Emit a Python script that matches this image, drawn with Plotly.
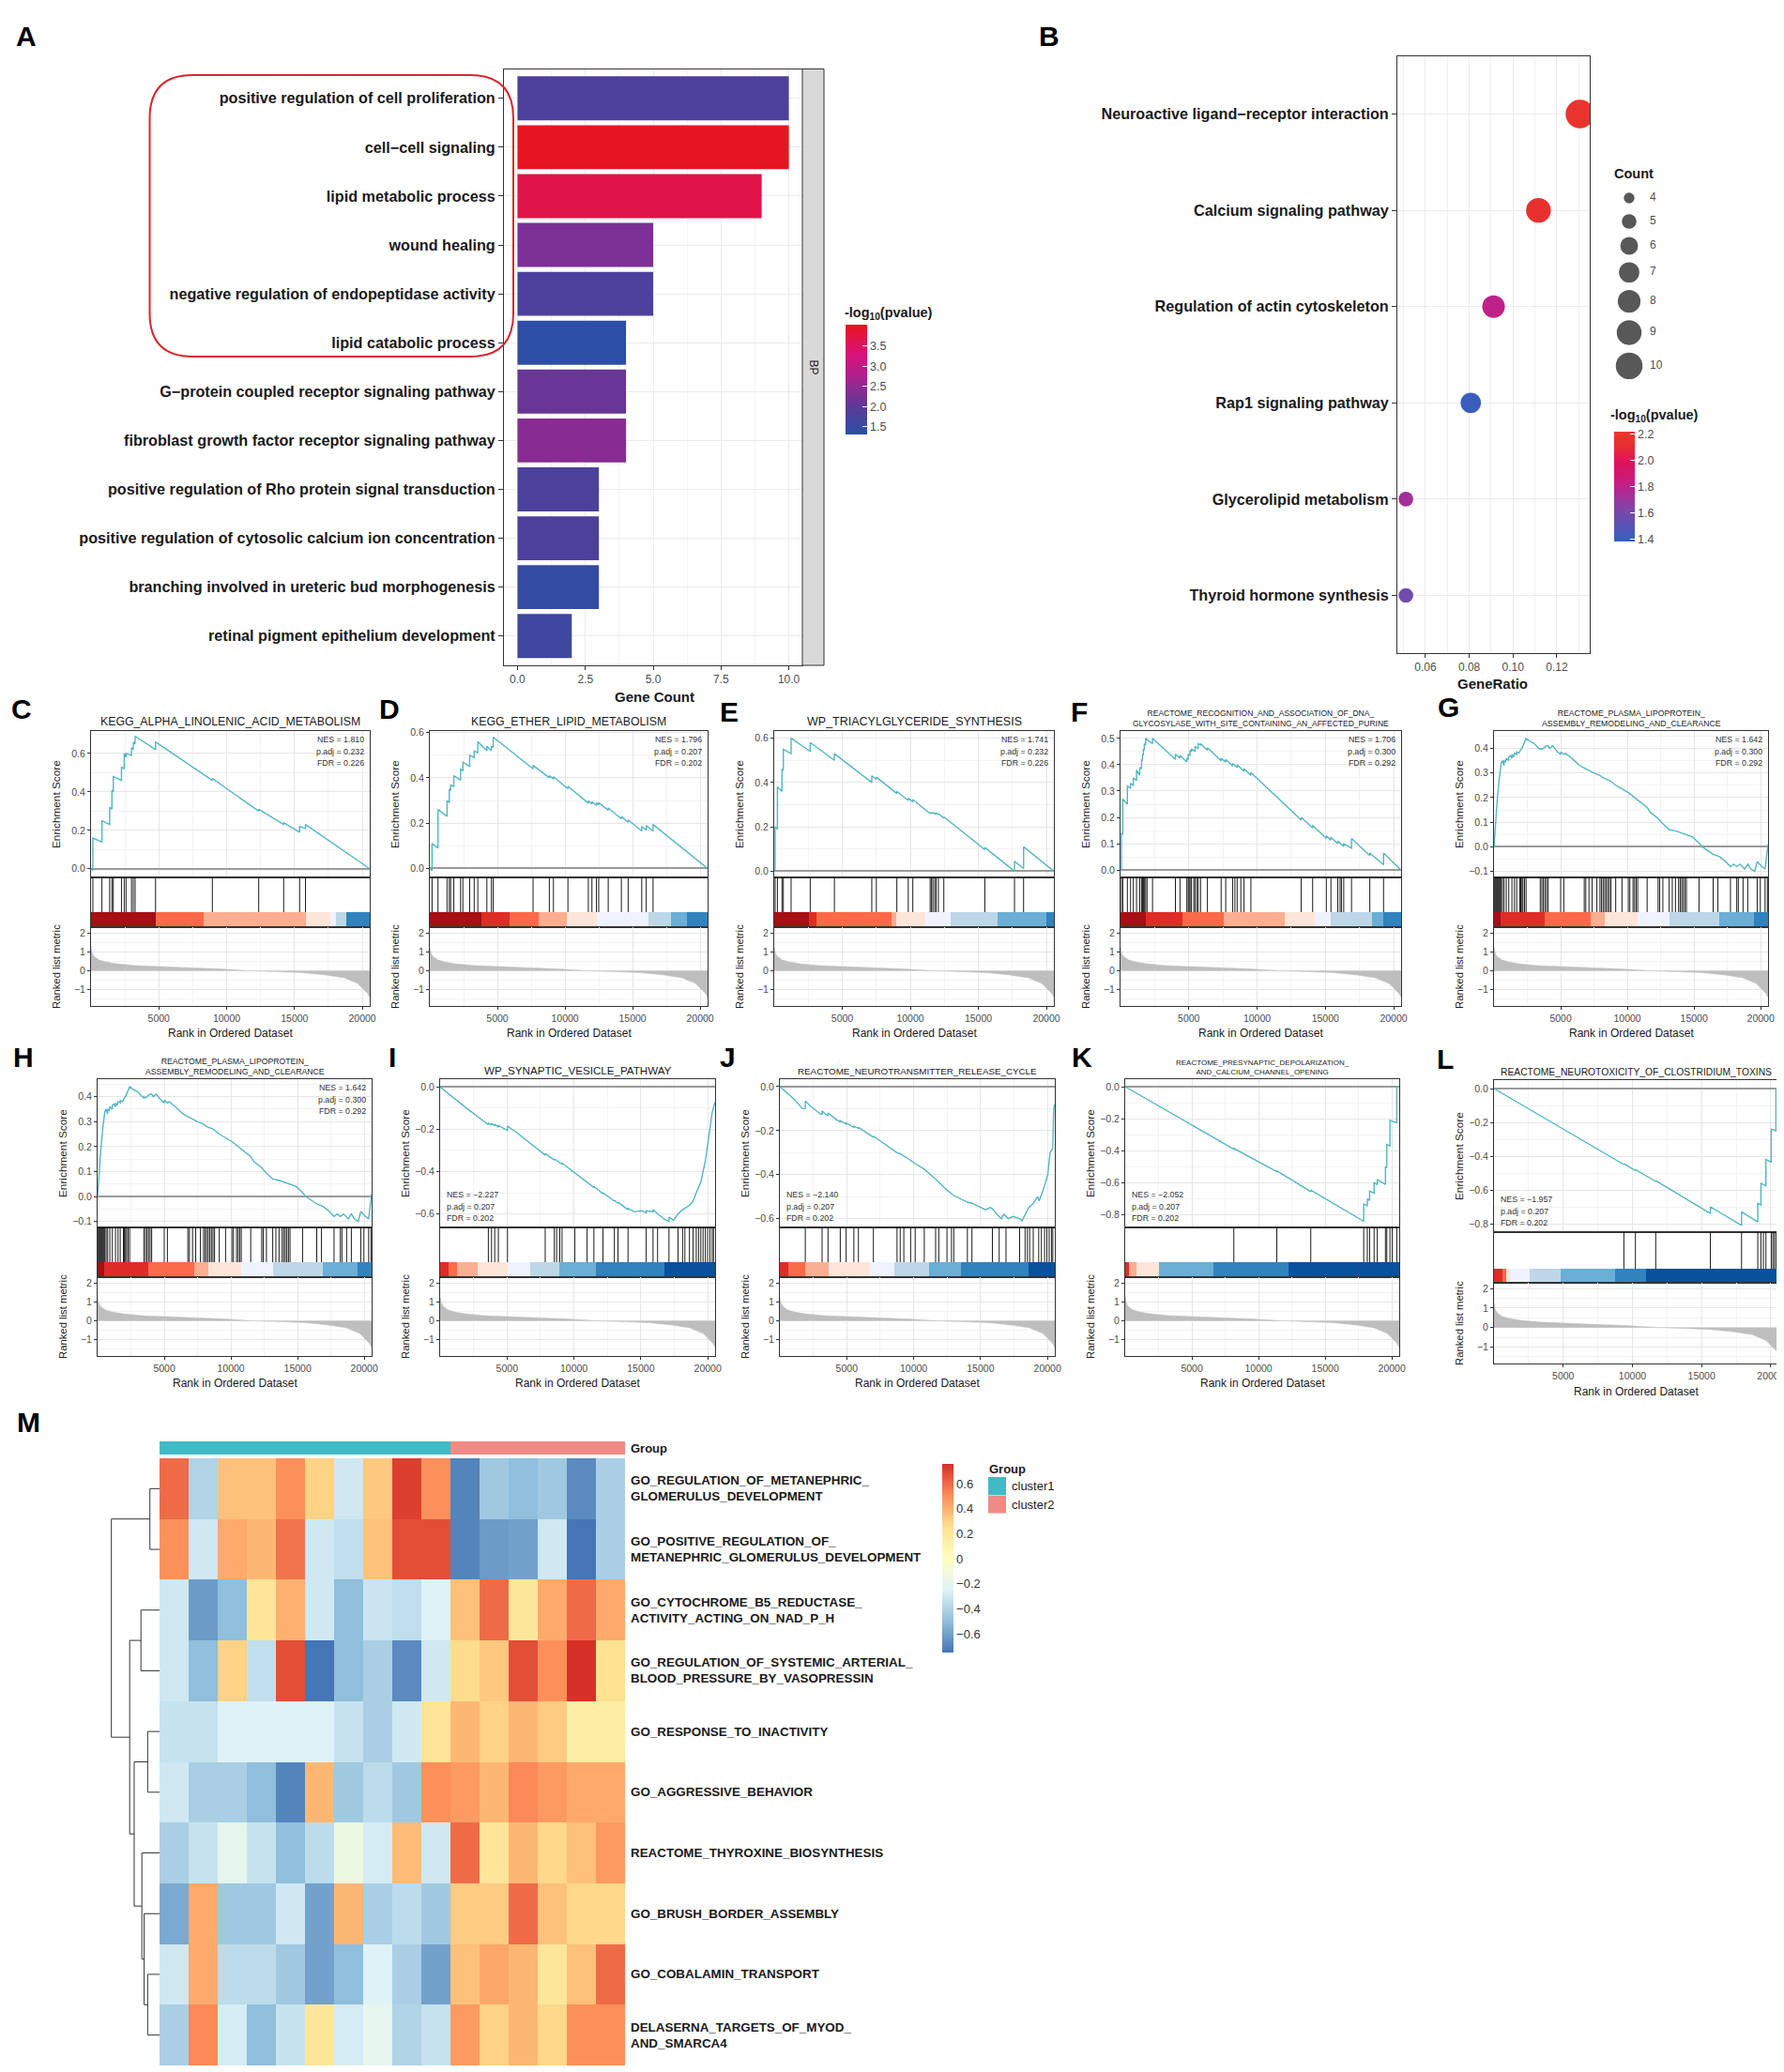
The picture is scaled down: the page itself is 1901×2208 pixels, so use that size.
import math
import plotly.graph_objects as go

W, H = 1901, 2208
FONT = "Liberation Sans, Arial, Helvetica, sans-serif"

# ------------------------------------------------------------------ Panel A data
go_terms = ["positive regulation of cell proliferation", "cell\u2212cell signaling", "lipid metabolic process",
            "wound healing", "negative regulation of endopeptidase activity", "lipid catabolic process",
            "G\u2212protein coupled receptor signaling pathway", "fibroblast growth factor receptor signaling pathway",
            "positive regulation of Rho protein signal transduction",
            "positive regulation of cytosolic calcium ion concentration",
            "branching involved in ureteric bud morphogenesis", "retinal pigment epithelium development"]
go_counts = [10, 10, 9, 5, 5, 4, 4, 4, 3, 3, 3, 2]
go_logp = [1.8, 4.0, 3.7, 2.3, 1.8, 1.35, 2.1, 2.4, 1.75, 1.8, 1.45, 1.6]
go_xticks = [0, 2.5, 5, 7.5, 10]
go_xtick_text = ["0.0", "2.5", "5.0", "7.5", "10.0"]
go_cbar_ticks = [1.5, 2.0, 2.5, 3.0, 3.5]

# ------------------------------------------------------------------ Panel B data
kegg_terms = ["Neuroactive ligand\u2212receptor interaction", "Calcium signaling pathway",
              "Regulation of actin cytoskeleton", "Rap1 signaling pathway", "Glycerolipid metabolism",
              "Thyroid hormone synthesis"]
kegg_ratio = [0.1305, 0.1116, 0.0911, 0.0807, 0.0511, 0.0511]
kegg_count = [11, 9, 8, 7, 5, 5]
kegg_logp = [2.16, 2.13, 1.80, 1.40, 1.72, 1.58]
kegg_xticks = [0.06, 0.08, 0.10, 0.12]
count_breaks = [4, 5, 6, 7, 8, 9, 10]
kegg_cbar_ticks = [1.4, 1.6, 1.8, 2.0, 2.2]

# ------------------------------------------------------------------ GSEA shared data
metric_rank = [0, 30, 100, 234, 570, 1072, 1910, 3250, 4925, 7270, 9500, 11800, 13970, 15645, 17320,
               18660, 19665, 20167, 20400, 20550]
metric_val = [1.25, 1.1, 0.9, 0.75, 0.58, 0.47, 0.37, 0.28, 0.22, 0.16, 0.10, 0.0, -0.05, -0.10, -0.22,
              -0.37, -0.67, -1.0, -1.2, -1.4]
rank_ticks = [5000, 10000, 15000, 20000]
rank_tick_text = ["5000", "10000", "15000", "20000"]
metric_ticks = [-1, 0, 1, 2]

# ------------------------------------------------------------------ GSEA panel data
C_title = "KEGG_ALPHA_LINOLENIC_ACID_METABOLISM"
C_stats = ["1.810", "0.232", "0.226"]
C_curve = [(0, 0), (134, -0.01), (134, 0.16), (804, 0.14), (804, 0.25), (1374, 0.23), (1374, 0.32), (1541, 0.31),
           (1541, 0.41), (1642, 0.40), (1642, 0.48), (2245, 0.46), (2245, 0.53), (2446, 0.52), (2446, 0.60),
           (2580, 0.58), (2580, 0.60), (2982, 0.59), (2982, 0.63), (3116, 0.62), (3116, 0.66), (3250, 0.65),
           (3250, 0.69), (4757, 0.62), (4757, 0.66), (8945, 0.46), (8945, 0.47), (12362, 0.30), (12362, 0.31),
           (14204, 0.23), (14204, 0.24), (15377, 0.19), (15377, 0.22), (15812, 0.21), (15812, 0.23), (20550, 0.0)]
C_hits = [134, 804, 1374, 1541, 1642, 2245, 2446, 2580, 2982, 3116, 3250, 4757, 8945, 12362, 14204, 15377, 15812]
C_strip_edges = [0, 4757, 8275, 15812, 17655, 18056, 18827, 20550]
C_strip_cols = [9, 7, 6, 5, 4, 3, 1]

D_title = "KEGG_ETHER_LIPID_METABOLISM"
D_stats = ["1.796", "0.207", "0.202"]
D_curve = [(0, 0), (168, -0.01), (168, 0.11), (603, 0.09), (603, 0.26), (1273, 0.23), (1273, 0.30), (1441, 0.29),
           (1441, 0.35), (1541, 0.345), (1541, 0.37), (1776, 0.36), (1776, 0.41), (2278, 0.39), (2278, 0.44),
           (2446, 0.43), (2446, 0.47), (2948, 0.45), (2948, 0.50), (3283, 0.49), (3283, 0.52), (3551, 0.51),
           (3551, 0.56), (4221, 0.52), (4221, 0.54), (4556, 0.52), (4556, 0.54), (4690, 0.535), (4690, 0.58),
           (7638, 0.44), (7638, 0.455), (8844, 0.40), (8844, 0.41), (9146, 0.395), (9146, 0.405), (10218, 0.352),
           (10218, 0.362), (11725, 0.288), (11725, 0.298), (11993, 0.285), (11993, 0.295), (12328, 0.279),
           (12328, 0.289), (12496, 0.281), (12496, 0.291), (13199, 0.257), (13199, 0.267), (14171, 0.219),
           (14171, 0.229), (14673, 0.204), (14673, 0.214), (15678, 0.165), (15678, 0.185), (16013, 0.169),
           (16013, 0.189), (16516, 0.164), (16516, 0.194), (20550, 0.0)]
D_hits = [168, 603, 1273, 1441, 1541, 1776, 2278, 2446, 2948, 3283, 3551, 4221, 4556, 4690, 7638, 8844, 9146,
          10218, 11725, 11993, 12328, 12496, 13199, 14171, 14673, 15678, 16013, 16516]
D_strip_edges = [0, 3786, 5896, 8040, 10151, 12328, 16181, 17856, 19028, 20550]
D_strip_cols = [9, 8, 7, 6, 5, 4, 3, 2, 1]

E_title = "WP_TRIACYLGLYCERIDE_SYNTHESIS"
E_stats = ["1.741", "0.232", "0.226"]
E_curve = [(0, 0), (67, 0.0), (67, 0.20), (235, 0.19), (235, 0.38), (570, 0.36), (570, 0.46), (670, 0.455),
           (670, 0.55), (1240, 0.53), (1240, 0.60), (2647, 0.54), (2647, 0.58), (4422, 0.50), (4422, 0.53),
           (7169, 0.40), (7169, 0.43), (7504, 0.414), (7504, 0.424), (9012, 0.35), (9012, 0.36), (9849, 0.319),
           (9849, 0.329), (10184, 0.313), (10184, 0.323), (11457, 0.26), (11457, 0.265), (11558, 0.26),
           (11558, 0.265), (11658, 0.26), (11658, 0.265), (11792, 0.258), (11792, 0.263), (11893, 0.258),
           (11893, 0.263), (12060, 0.255), (12060, 0.26), (12462, 0.24), (12462, 0.245), (15477, 0.097),
           (15477, 0.107), (17655, 0.0), (17655, 0.045), (18325, 0.012), (18325, 0.11), (20550, 0.0)]
E_hits = [67, 235, 570, 670, 1240, 2647, 4422, 7169, 7504, 9012, 9849, 10184, 11457, 11558, 11658, 11792, 11893,
          12060, 12462, 15477, 17655, 18325]
E_strip_edges = [0, 2580, 3082, 8610, 8945, 11122, 12965, 16415, 20000, 20550]
E_strip_cols = [9, 8, 7, 6, 5, 4, 3, 2, 1]

F_title = "REACTOME_RECOGNITION_AND_ASSOCIATION_OF_DNA_<br>GLYCOSYLASE_WITH_SITE_CONTAINING_AN_AFFECTED_PURINE"
F_stats = ["1.706", "0.300", "0.292"]
F_curve = [(0, 0), (67, 0.0), (67, 0.14), (168, 0.135), (168, 0.27), (503, 0.25), (503, 0.32), (737, 0.31),
           (737, 0.33), (938, 0.32), (938, 0.35), (1173, 0.34), (1173, 0.38), (1407, 0.36), (1407, 0.39),
           (1541, 0.385), (1541, 0.42), (1608, 0.415), (1608, 0.44), (1675, 0.435), (1675, 0.46), (1742, 0.455),
           (1742, 0.48), (1843, 0.475), (1843, 0.50), (2345, 0.48), (2345, 0.50), (3350, 0.45), (4020, 0.42),
           (4020, 0.44), (4355, 0.425), (4355, 0.435), (4858, 0.41), (4858, 0.425), (4958, 0.42), (4958, 0.44),
           (5092, 0.435), (5092, 0.455), (5193, 0.45), (5193, 0.46), (5461, 0.45), (5461, 0.47), (5695, 0.46),
           (5695, 0.48), (5863, 0.475), (5863, 0.48), (6365, 0.455), (6365, 0.465), (7370, 0.415), (7370, 0.425),
           (7705, 0.41), (7705, 0.42), (8208, 0.395), (8208, 0.405), (8543, 0.39), (8543, 0.40), (9045, 0.375),
           (9045, 0.385), (9548, 0.36), (9548, 0.37), (13233, 0.19), (13233, 0.20), (14070, 0.16), (14070, 0.17),
           (15075, 0.12), (15075, 0.13), (15410, 0.114), (15410, 0.124), (15913, 0.10), (15913, 0.11),
           (16348, 0.09), (16348, 0.10), (16918, 0.083), (16918, 0.12), (18258, 0.055), (18258, 0.065),
           (19263, 0.02), (19263, 0.065), (20550, 0.0)]
F_hits = [67, 168, 503, 737, 938, 1173, 1407, 1541, 1608, 1675, 1742, 1843, 1943, 2345, 4020, 4355, 4858, 4958,
          5025, 5092, 5193, 5360, 5461, 5595, 5695, 5863, 6365, 7370, 7705, 8208, 8375, 8543, 8811, 9045, 9548,
          13233, 14070, 15075, 15410, 15913, 16080, 16181, 16348, 16918, 18258, 19263]
F_strip_edges = [0, 1843, 4523, 7538, 12060, 14238, 15410, 18425, 19263, 20550]
F_strip_cols = [9, 8, 7, 6, 5, 4, 3, 2, 1]

G_title = "REACTOME_PLASMA_LIPOPROTEIN_<br>ASSEMBLY_REMODELING_AND_CLEARANCE"
G_stats = ["1.642", "0.300", "0.292"]
G_curve = [(0, 0.0), (47, 0.05), (118, 0.10), (189, 0.15), (259, 0.20), (330, 0.25), (401, 0.28), (472, 0.31),
           (542, 0.34), (637, 0.35), (700, 0.335), (755, 0.33), (755, 0.35), (872, 0.345), (920, 0.36),
           (1108, 0.35), (1108, 0.365), (1226, 0.37), (1344, 0.36), (1344, 0.375), (1462, 0.365), (1533, 0.38),
           (1698, 0.375), (1698, 0.385), (1863, 0.38), (1934, 0.39), (2004, 0.395), (2099, 0.40), (2169, 0.41),
           (2287, 0.42), (2405, 0.44), (2641, 0.43), (2995, 0.42), (3348, 0.40), (3466, 0.395), (3466, 0.40),
           (3584, 0.395), (3702, 0.40), (3820, 0.405), (3938, 0.41), (4056, 0.41), (4174, 0.40), (4409, 0.41),
           (4763, 0.385), (4999, 0.375), (4999, 0.385), (5235, 0.375), (5353, 0.38), (5824, 0.36), (6414, 0.33),
           (6767, 0.32), (7121, 0.31), (7475, 0.30), (7947, 0.29), (8182, 0.28), (8654, 0.27), (9125, 0.25),
           (9597, 0.235), (10069, 0.22), (10540, 0.20), (11012, 0.18), (11484, 0.16), (11719, 0.14),
           (12309, 0.115), (12545, 0.10), (13134, 0.07), (13606, 0.065), (13841, 0.06), (14195, 0.055),
           (14431, 0.05), (14902, 0.04), (15374, 0.015), (15610, 0.0), (16435, -0.03), (16907, -0.04),
           (17378, -0.06), (17732, -0.08), (17968, -0.07), (18204, -0.08), (18439, -0.07), (18793, -0.09),
           (19029, -0.07), (19265, -0.09), (19548, -0.10), (19736, -0.06), (20090, -0.08), (20326, -0.09),
           (20550, 0.01)]
G_hits = [47, 118, 189, 259, 330, 401, 472, 542, 637, 755, 920, 1108, 1344, 1533, 1698, 1934, 2004, 2099, 2169,
          2287, 2405, 3466, 3584, 3702, 3820, 3938, 4056, 4999, 5235, 6767, 6885, 7121, 7357, 7711, 7947, 8064,
          8182, 8300, 8418, 8536, 8654, 8772, 9125, 9597, 10069, 10187, 10422, 10540, 10658, 10776, 11484, 12309,
          12427, 12663, 13134, 13370, 13606, 13841, 13959, 14077, 14195, 14313, 14431, 15374, 16435, 16789,
          17732, 18204, 18322, 18675, 19029, 19736, 19972, 20326, 20500]
G_strip_edges = [0, 519, 3820, 7239, 8300, 10776, 13134, 16907, 19501, 20550]
G_strip_cols = [9, 8, 7, 6, 5, 4, 3, 2, 1]

I_title = "WP_SYNAPTIC_VESICLE_PATHWAY"
I_stats = ["\u22122.227", "0.207", "0.202"]
I_curve = [(0, 0.0), (1972, -0.10), (3604, -0.178), (3604, -0.170), (3842, -0.180), (3842, -0.172),
           (4080, -0.184), (4080, -0.176), (4352, -0.19), (4352, -0.182), (5032, -0.205), (5032, -0.185),
           (5712, -0.215), (7412, -0.30), (7854, -0.322), (7854, -0.315), (8534, -0.345), (8534, -0.34),
           (9112, -0.365), (9112, -0.36), (10472, -0.425), (11492, -0.475), (11492, -0.47), (12172, -0.505),
           (12172, -0.50), (12852, -0.535), (13022, -0.54), (13022, -0.535), (13294, -0.55), (13294, -0.545),
           (14042, -0.58), (14042, -0.575), (14552, -0.59), (15062, -0.585), (15402, -0.595), (15402, -0.585),
           (15912, -0.59), (15912, -0.58), (16252, -0.60), (16762, -0.625), (17102, -0.635), (17102, -0.615),
           (17442, -0.63), (17782, -0.60), (18122, -0.58), (18632, -0.56), (18904, -0.54), (19142, -0.50),
           (19482, -0.45), (19822, -0.35), (20060, -0.25), (20332, -0.12), (20550, -0.07)]
I_hits = [3604, 3842, 4080, 4352, 5032, 7854, 8534, 8704, 8942, 9112, 10064, 10982, 11492, 12172, 13022, 13294,
          14042, 15402, 15912, 16252, 17102, 17782, 18122, 18292, 18632, 18904, 19142, 19312, 19482, 19652,
          19822, 19992, 20162, 20332, 20434]
I_strip_edges = [0, 612, 1292, 2822, 5032, 6732, 8942, 11662, 16762, 20550]
I_strip_cols = [8, 7, 6, 5, 4, 3, 2, 1, 0]

J_title = "REACTOME_NEUROTRANSMITTER_RELEASE_CYCLE"
J_stats = ["\u22122.140", "0.207", "0.202"]
J_curve = [(0, 0), (950, -0.05), (1697, -0.10), (1901, -0.10), (1901, -0.065), (2308, -0.09), (3055, -0.125),
           (3156, -0.125), (3156, -0.11), (3496, -0.13), (3598, -0.13), (3598, -0.12), (4344, -0.155),
           (4514, -0.16), (4514, -0.155), (4955, -0.17), (4955, -0.165), (5532, -0.185), (5532, -0.18),
           (5872, -0.19), (5872, -0.185), (6381, -0.205), (6890, -0.225), (6992, -0.23), (6992, -0.225),
           (8078, -0.27), (8757, -0.30), (8994, -0.305), (9266, -0.315), (9775, -0.335), (10114, -0.35),
           (10793, -0.375), (11641, -0.42), (12151, -0.45), (12490, -0.47), (12999, -0.495), (13169, -0.50),
           (13848, -0.52), (14017, -0.525), (14357, -0.53), (14526, -0.535), (15035, -0.55), (15375, -0.56),
           (15714, -0.55), (15884, -0.555), (16223, -0.58), (16563, -0.60), (16732, -0.58), (17072, -0.60),
           (17411, -0.59), (17920, -0.60), (18090, -0.61), (18328, -0.58), (18599, -0.55), (18939, -0.53),
           (19278, -0.50), (19380, -0.52), (19617, -0.48), (19787, -0.45), (20025, -0.40), (20194, -0.30),
           (20398, -0.28), (20466, -0.10), (20550, -0.08)]
J_hits = [1901, 3156, 3598, 4514, 4955, 5532, 5872, 6992, 8757, 8994, 9266, 9775, 10114, 10793, 11641, 11879,
          12490, 12829, 12999, 14017, 14357, 15884, 16393, 16902, 17920, 18328, 18497, 18667, 18939, 19346,
          19549, 19787, 19957, 20126, 20296, 20398]
J_strip_edges = [0, 611, 1901, 3666, 6720, 8587, 11132, 13508, 18599, 20550]
J_strip_cols = [8, 7, 6, 5, 4, 3, 2, 1, 0]

K_title = "REACTOME_PRESYNAPTIC_DEPOLARIZATION_<br>AND_CALCIUM_CHANNEL_OPENING"
K_stats = ["\u22122.052", "0.207", "0.202"]
K_curve = [(0, 0), (8146, -0.39), (8146, -0.385), (11370, -0.53), (11370, -0.525), (13915, -0.655),
           (13915, -0.645), (17886, -0.84), (17886, -0.73), (18158, -0.745), (18158, -0.70), (18328, -0.71),
           (18328, -0.65), (18667, -0.665), (18667, -0.60), (18905, -0.61), (18905, -0.58), (19516, -0.61),
           (19516, -0.50), (19618, -0.505), (19618, -0.36), (19855, -0.37), (19855, -0.21), (20364, -0.225),
           (20364, 0.0), (20550, 0.0)]
K_hits = [8146, 11370, 13915, 17886, 18158, 18328, 18667, 18905, 19516, 19618, 19855, 20025, 20364]
K_strip_edges = [0, 300, 850, 2546, 6618, 12218, 20550]
K_strip_cols = [8, 6, 5, 2, 1, 0]

L_title = "REACTOME_NEUROTOXICITY_OF_CLOSTRIDIUM_TOXINS"
L_stats = ["\u22121.957", "0.207", "0.202"]
L_curve = [(0, 0), (9385, -0.45), (9385, -0.445), (10220, -0.485), (10220, -0.48), (11686, -0.55),
           (11686, -0.545), (15634, -0.74), (15634, -0.70), (17890, -0.81), (17890, -0.73), (19063, -0.79),
           (19063, -0.68), (19289, -0.69), (19289, -0.56), (19650, -0.575), (19650, -0.42), (20033, -0.435),
           (20033, -0.24), (20372, -0.25), (20372, 0.0), (20550, 0.0)]
L_hits = [9385, 10220, 11686, 15634, 17890, 19063, 19289, 19469, 19650, 20033, 20146, 20259, 20372]
L_strip_edges = [0, 630, 857, 1128, 2549, 4805, 8753, 11009, 20550]
L_strip_cols = [8, 7, 5, 4, 3, 2, 1, 0]

# ------------------------------------------------------------------ Panel M data
hm_rows = ["GO_REGULATION_OF_METANEPHRIC_<br>GLOMERULUS_DEVELOPMENT",
           "GO_POSITIVE_REGULATION_OF_<br>METANEPHRIC_GLOMERULUS_DEVELOPMENT",
           "GO_CYTOCHROME_B5_REDUCTASE_<br>ACTIVITY_ACTING_ON_NAD_P_H",
           "GO_REGULATION_OF_SYSTEMIC_ARTERIAL_<br>BLOOD_PRESSURE_BY_VASOPRESSIN",
           "GO_RESPONSE_TO_INACTIVITY", "GO_AGGRESSIVE_BEHAVIOR", "REACTOME_THYROXINE_BIOSYNTHESIS",
           "GO_BRUSH_BORDER_ASSEMBLY", "GO_COBALAMIN_TRANSPORT", "DELASERNA_TARGETS_OF_MYOD_<br>AND_SMARCA4"]
hm_groups = [0] * 10 + [1] * 6
group_names = ["cluster1", "cluster2"]
hm_values = [
    [0.60, -0.40, 0.35, 0.35, 0.50, 0.30, -0.30, 0.33, 0.72, 0.50, -0.70, -0.45, -0.50, -0.45, -0.68, -0.42],
    [0.50, -0.30, 0.42, 0.38, 0.58, -0.30, -0.35, 0.35, 0.68, 0.68, -0.70, -0.62, -0.60, -0.30, -0.75, -0.42],
    [-0.30, -0.62, -0.50, 0.22, 0.40, -0.30, -0.50, -0.32, -0.35, -0.25, 0.35, 0.60, 0.20, 0.42, 0.60, 0.42],
    [-0.30, -0.50, 0.30, -0.35, 0.68, -0.75, -0.50, -0.42, -0.68, -0.30, 0.27, 0.33, 0.68, 0.50, 0.76, 0.25],
    [-0.33, -0.33, -0.25, -0.25, -0.25, -0.25, -0.33, -0.42, -0.30, 0.22, 0.38, 0.30, 0.38, 0.32, 0.15, 0.15],
    [-0.30, -0.42, -0.42, -0.50, -0.70, 0.38, -0.45, -0.36, -0.45, 0.50, 0.47, 0.38, 0.52, 0.47, 0.42, 0.42],
    [-0.42, -0.33, -0.20, -0.33, -0.50, -0.36, -0.15, -0.28, 0.37, -0.30, 0.60, 0.22, 0.38, 0.28, 0.35, 0.47],
    [-0.57, 0.42, -0.45, -0.45, -0.30, -0.60, 0.38, -0.42, -0.36, -0.45, 0.32, 0.32, 0.60, 0.35, 0.28, 0.28],
    [-0.30, 0.42, -0.36, -0.36, -0.45, -0.60, -0.50, -0.25, -0.42, -0.60, 0.35, 0.43, 0.38, 0.20, 0.35, 0.60],
    [-0.42, 0.52, -0.28, -0.50, -0.33, 0.20, -0.28, -0.20, -0.40, -0.33, 0.47, 0.30, 0.38, 0.28, 0.50, 0.50],
]
hm_cbar_ticks = [-0.6, -0.4, -0.2, 0, 0.2, 0.4, 0.6]
# dendrogram merges: (child a, child b, height); leaves 0..9, new clusters numbered from 10
dend_merges = [(0, 1, 30), (2, 3, 58), (4, 5, 37), (8, 9, 37), (7, 13, 48), (6, 14, 55), (12, 15, 79),
               (11, 16, 93), (10, 17, 150)]

# ================================================================== build
fig = go.Figure()
layout = {}
annotations = []
shapes = []
naxes = [0]


def X(px):
    return px / W


def Y(py):
    return 1 - py / H


BASE = dict(showgrid=False, zeroline=False, showticklabels=False, ticks="", showline=False, fixedrange=True)


def add_axes(x0, x1, y0, y1, xa=None, ya=None):
    naxes[0] += 1
    n = naxes[0]
    s = "" if n == 1 else str(n)
    ax = dict(BASE)
    ax.update(xa or {})
    ax.update(domain=[X(x0), X(x1)], anchor="y" + s)
    ay = dict(BASE)
    ay.update(ya or {})
    ay.update(domain=[Y(y1), Y(y0)], anchor="x" + s)
    layout["xaxis" + s] = ax
    layout["yaxis" + s] = ay
    return "x" + s, "y" + s


def note(text, x, y, size, color="#1A1A1A", xanchor="center", yanchor="middle", angle=0, align="center",
         xref="paper", yref="paper"):
    annotations.append(dict(text=text, x=X(x) if xref == "paper" else x, y=Y(y) if yref == "paper" else y,
                            xref=xref, yref=yref, showarrow=False, xanchor=xanchor, yanchor=yanchor,
                            textangle=angle, align=align, borderpad=0,
                            font=dict(size=size, color=color, family=FONT)))


def mtxt(v):
    return ("%g" % v).replace("-", "\u2212")


FRAME = dict(showline=True, mirror=True, linecolor="#333333", linewidth=1)
TICK_GRAY = "#4D4D4D"
LAB = 16.2

# ------------------------------------------------------------------ Panel A
CS_A = [[0, "#2A4FA6"], [0.25, "#5B3A98"], [0.5, "#A52390"], [0.72, "#D8127A"], [0.88, "#E01448"],
        [1, "#E8141E"]]
xa, ya = add_axes(529, 847, 65.5, 701,
                  xa=dict(range=[-0.5, 10.5], tickvals=go_xticks, ticktext=go_xtick_text, showticklabels=True,
                          ticks="outside", ticklen=4, tickcolor="#333333",
                          tickfont=dict(size=12, color=TICK_GRAY),
                          showgrid=True, gridcolor="#EBEBEB", gridwidth=1.2,
                          minor=dict(tickvals=[1.25, 3.75, 6.25, 8.75], showgrid=True, gridcolor="#F4F4F4",
                                     gridwidth=0.7, ticks=""), **FRAME),
                  ya=dict(range=[len(go_terms) - 0.4, -0.6], tickvals=list(range(len(go_terms))),
                          ticktext=["<b>%s</b>" % t for t in go_terms], showticklabels=True, ticks="outside",
                          ticklen=5, tickcolor="#333333", tickfont=dict(size=LAB, color="#1A1A1A"),
                          showgrid=True, gridcolor="#EBEBEB", gridwidth=1.2, **FRAME))
fig.add_trace(go.Bar(x=go_counts, y=list(range(len(go_terms))), orientation="h", width=0.9, xaxis=xa, yaxis=ya,
                     marker=dict(color=go_logp, colorscale=CS_A, cmin=1.31, cmax=4.03, line=dict(width=0),
                                 colorbar=dict(x=X(893), xanchor="left", y=Y((338 + 455) / 2), yanchor="middle",
                                               len=117, lenmode="pixels", thickness=23, thicknessmode="pixels",
                                               tickvals=go_cbar_ticks, ticktext=["%.1f" % t for t in go_cbar_ticks],
                                               ticks="inside", ticklen=5, tickcolor="white",
                                               tickfont=dict(size=12.5, color=TICK_GRAY), outlinewidth=0,
                                               xpad=0, ypad=0)),
                     hoverinfo="skip"))
shapes.append(dict(type="rect", xref="paper", yref="paper", x0=X(847), x1=X(870), y0=Y(701), y1=Y(65.5),
                   fillcolor="#D9D9D9", line=dict(color="#333333", width=1)))
note("BP", 858.5, 383, 12, color="#1A1A1A", angle=90)
note("<b>Gene Count</b>", 689, 734, 15)
note("<b>-log<sub>10</sub>(pvalue)</b>", 891, 326, 14.5, xanchor="left")


def rrect(x0, y0, x1, y1, r):
    rx, ry = r / W, r / H
    a, b, c, d = X(x0), Y(y0), X(x1), Y(y1)
    return ("M %f,%f L %f,%f Q %f,%f %f,%f L %f,%f Q %f,%f %f,%f L %f,%f Q %f,%f %f,%f L %f,%f Q %f,%f %f,%f Z"
            % (a + rx, b, c - rx, b, c, b, c, b - ry, c, d + ry, c, d, c - rx, d, a + rx, d, a, d, a, d + ry,
               a, b - ry, a, b, a + rx, b))


shapes.append(dict(type="path", path=rrect(151.5, 72, 539, 372, 46), xref="paper", yref="paper",
                   line=dict(color="#D7262E", width=2)))

# ------------------------------------------------------------------ Panel B
CS_B = [[0, "#3560C0"], [0.3, "#8044A8"], [0.5, "#C0208A"], [0.72, "#E0105A"], [0.88, "#E83030"],
        [1, "#EA3A2A"]]


def dot_size(c):
    return 3.8 * math.sqrt(9 + (c - 4) / 7.0 * 55)


xb, yb = add_axes(1481, 1686, 52, 688,
                  xa=dict(range=[0.0472, 0.135], tickvals=kegg_xticks, ticktext=["%.2f" % t for t in kegg_xticks],
                          showticklabels=True, ticks="outside", ticklen=4, tickcolor="#333333",
                          tickfont=dict(size=12, color=TICK_GRAY), showgrid=True, gridcolor="#EBEBEB",
                          gridwidth=1.2,
                          minor=dict(tickvals=[0.05, 0.07, 0.09, 0.11, 0.13], showgrid=True, gridcolor="#F0F0F0",
                                     gridwidth=0.8, ticks=""), **FRAME),
                  ya=dict(range=[len(kegg_terms) - 0.4, -0.6], tickvals=list(range(len(kegg_terms))),
                          ticktext=["<b>%s</b>" % t for t in kegg_terms], showticklabels=True, ticks="outside",
                          ticklen=5, tickcolor="#333333", tickfont=dict(size=LAB, color="#1A1A1A"),
                          showgrid=True, gridcolor="#EBEBEB", gridwidth=1.2, **FRAME))
fig.add_trace(go.Scatter(x=kegg_ratio, y=list(range(len(kegg_terms))), mode="markers", xaxis=xb, yaxis=yb,
                         marker=dict(size=[dot_size(c) for c in kegg_count], color=kegg_logp, colorscale=CS_B,
                                     cmin=1.38, cmax=2.22, opacity=1, line=dict(width=0),
                                     colorbar=dict(x=X(1712), xanchor="left", y=Y((452 + 569) / 2),
                                                   yanchor="middle", len=117, lenmode="pixels", thickness=22,
                                                   thicknessmode="pixels", tickvals=kegg_cbar_ticks,
                                                   ticktext=["%.1f" % t for t in kegg_cbar_ticks],
                                                   ticks="inside", ticklen=5, tickcolor="white",
                                                   tickfont=dict(size=12.5, color=TICK_GRAY), outlinewidth=0,
                                                   xpad=0, ypad=0)),
                         hoverinfo="skip"))
note("<b>GeneRatio</b>", 1582, 720, 15)
note("<b>-log<sub>10</sub>(pvalue)</b>", 1707, 435, 14.5, xanchor="left")
note("<b>Count</b>", 1711, 177, 14.5, xanchor="left")

# count legend (key heights stacked like a ggplot size legend)
xl, yl = add_axes(1700, 1800, 170, 400, xa=dict(range=[1700, 1800]), ya=dict(range=[400, 170]))
key_h = [max(dot_size(c) + 8, 25) for c in count_breaks]
key_y = [203]
for i in range(1, len(count_breaks)):
    key_y.append(key_y[-1] + (key_h[i - 1] + key_h[i]) / 2)
fig.add_trace(go.Scatter(x=[1728] * len(count_breaks), y=key_y, mode="markers", xaxis=xl, yaxis=yl,
                         marker=dict(size=[dot_size(c) for c in count_breaks], color="#111111", line=dict(width=0)),
                         cliponaxis=False, hoverinfo="skip"))
fig.add_trace(go.Scatter(x=[1750] * len(count_breaks), y=key_y, mode="text", text=[str(c) for c in count_breaks],
                         textposition="middle right", textfont=dict(size=12, color=TICK_GRAY, family=FONT),
                         xaxis=xl, yaxis=yl, cliponaxis=False, hoverinfo="skip"))

# ------------------------------------------------------------------ GSEA panels
PAL = ["#08519C", "#3182BD", "#6BAED6", "#BDD7E7", "#EFF3FF", "#FEE5D9", "#FCAE91", "#FB6A4A", "#DE2D26",
       "#A50F15"]
CS_STRIP = []
for i, c in enumerate(PAL):
    CS_STRIP += [[i / 10.0, c], [(i + 1) / 10.0, c]]

ROW1 = dict(top=771, es=927, hit=964, strip=980, bot=1064, xt=1093)
ROW2 = dict(top=1142, es=1300, hit=1337, strip=1353, bot=1437, xt=1466)
ROWL = dict(top=1143, es=1305, hit=1344, strip=1359, bot=1445, xt=1475)

panels = [
    dict(L="C", lp=(15, 747), x0=89, x1=386, row=ROW1, title=C_title, ts=12.3, curve=C_curve, hits=C_hits,
         edges=C_strip_edges, cols=C_strip_cols, stats=C_stats, ticks=[0, 0.2, 0.4, 0.6], rng=[-0.045, 0.717]),
    dict(L="D", lp=(407, 747), x0=450, x1=746, row=ROW1, title=D_title, ts=12.3, curve=D_curve, hits=D_hits,
         edges=D_strip_edges, cols=D_strip_cols, stats=D_stats, ticks=[0, 0.2, 0.4, 0.6], rng=[-0.04, 0.607]),
    dict(L="E", lp=(769, 750), x0=817, x1=1115, row=ROW1, title=E_title, ts=12.5, curve=E_curve, hits=E_hits,
         edges=E_strip_edges, cols=E_strip_cols, stats=E_stats, ticks=[0, 0.2, 0.4, 0.6], rng=[-0.028, 0.632]),
    dict(L="F", lp=(1142, 750), x0=1186, x1=1485, row=ROW1, title=F_title, ts=8.5, curve=F_curve, hits=F_hits,
         edges=F_strip_edges, cols=F_strip_cols, stats=F_stats, ticks=[0, 0.1, 0.2, 0.3, 0.4, 0.5],
         rng=[-0.028, 0.528]),
    dict(L="G", lp=(1535, 745), x0=1584, x1=1876, row=ROW1, title=G_title, ts=8.7, curve=G_curve, hits=G_hits,
         edges=G_strip_edges, cols=G_strip_cols, stats=G_stats, ticks=[-0.1, 0, 0.1, 0.2, 0.3, 0.4],
         rng=[-0.124, 0.47]),
    dict(L="H", lp=(17, 1118), x0=96, x1=388, row=ROW2, title=G_title, ts=8.7, curve=G_curve, hits=G_hits,
         edges=G_strip_edges, cols=G_strip_cols, stats=G_stats, ticks=[-0.1, 0, 0.1, 0.2, 0.3, 0.4],
         rng=[-0.124, 0.47]),
    dict(L="I", lp=(410, 1118), x0=461, x1=754, row=ROW2, title=I_title, ts=11.6, curve=I_curve, hits=I_hits,
         edges=I_strip_edges, cols=I_strip_cols, stats=I_stats, ticks=[-0.6, -0.4, -0.2, 0], rng=[-0.664, 0.037]),
    dict(L="J", lp=(767, 1118), x0=823, x1=1116, row=ROW2, title=J_title, ts=9.8, curve=J_curve, hits=J_hits,
         edges=J_strip_edges, cols=J_strip_cols, stats=J_stats, ticks=[-0.6, -0.4, -0.2, 0], rng=[-0.64, 0.034]),
    dict(L="K", lp=(1145, 1118), x0=1191, x1=1483, row=ROW2, title=K_title, ts=8.0, curve=K_curve, hits=K_hits,
         edges=K_strip_edges, cols=K_strip_cols, stats=K_stats, ticks=[-0.8, -0.6, -0.4, -0.2, 0],
         rng=[-0.878, 0.047]),
    dict(L="L", lp=(1532, 1120), x0=1584, x1=1887, row=ROWL, title=L_title, ts=10.3, curve=L_curve, hits=L_hits,
         edges=L_strip_edges, cols=L_strip_cols, stats=L_stats, ticks=[-0.8, -0.6, -0.4, -0.2, 0],
         rng=[-0.85, 0.05]),
]

XR = [0, 20550]
GRID = dict(showgrid=True, gridcolor="#E6E6E6", gridwidth=1)
XMINOR = dict(tickvals=[2500, 7500, 12500, 17500], showgrid=True, gridcolor="#F3F3F3", gridwidth=0.7, ticks="")

for p in panels:
    r = p["row"]
    x0, x1 = p["x0"], p["x1"]
    ticks = p["ticks"]
    step = ticks[1] - ticks[0]
    yminor = [t + step / 2 for t in ticks] + [ticks[0] - step / 2]
    # running enrichment score
    xe, ye = add_axes(x0, x1, r["top"], r["es"],
                      xa=dict(range=XR, tickvals=rank_ticks, minor=XMINOR, **GRID, **FRAME),
                      ya=dict(range=p["rng"], tickvals=ticks,
                              ticktext=[("%.1f" % t).replace("-", "\u2212") for t in ticks],
                              showticklabels=True, ticks="outside", ticklen=3, tickcolor="#333333",
                              tickfont=dict(size=10.5, color=TICK_GRAY),
                              minor=dict(tickvals=yminor, showgrid=True, gridcolor="#F3F3F3", gridwidth=0.7,
                                         ticks=""),
                              zeroline=True, zerolinecolor="#9A9A9A", zerolinewidth=1.5, **GRID, **FRAME))
    fig.add_trace(go.Scatter(x=[c[0] for c in p["curve"]], y=[c[1] for c in p["curve"]], mode="lines",
                             line=dict(color="#55B6C0", width=1.4), xaxis=xe, yaxis=ye, hoverinfo="skip"))
    # hits + colour strip
    xm, ym = add_axes(x0, x1, r["es"], r["strip"], xa=dict(range=XR, **FRAME), ya=dict(range=[0, 1], **FRAME))
    f = (r["strip"] - r["hit"]) / float(r["strip"] - r["es"])
    hx, hy = [], []
    for h in p["hits"]:
        hx += [h, h, None]
        hy += [f, 1, None]
    fig.add_trace(go.Heatmap(x=p["edges"], y=[0, f], z=[p["cols"]], colorscale=CS_STRIP, zmin=-0.5, zmax=9.5,
                             showscale=False, xaxis=xm, yaxis=ym, hoverinfo="skip"))
    fig.add_trace(go.Scatter(x=hx, y=hy, mode="lines", line=dict(color="black", width=0.9), xaxis=xm, yaxis=ym,
                             hoverinfo="skip"))
    # ranked list metric
    xr, yr = add_axes(x0, x1, r["strip"], r["bot"],
                      xa=dict(range=XR, tickvals=rank_ticks, ticktext=rank_tick_text, showticklabels=True,
                              ticks="outside", ticklen=3, tickcolor="#333333",
                              tickfont=dict(size=10.5, color=TICK_GRAY), minor=XMINOR, **GRID, **FRAME),
                      ya=dict(range=[-1.85, 2.3], tickvals=metric_ticks, ticktext=[mtxt(t) for t in metric_ticks],
                              showticklabels=True, ticks="outside", ticklen=3, tickcolor="#333333",
                              tickfont=dict(size=10.5, color=TICK_GRAY),
                              minor=dict(tickvals=[-1.5, -0.5, 0.5, 1.5], showgrid=True, gridcolor="#F3F3F3",
                                         gridwidth=0.7, ticks=""), **GRID, **FRAME))
    fig.add_trace(go.Scatter(x=metric_rank, y=metric_val, mode="lines", line=dict(width=0.5, color="#BEBEBE"),
                             fill="tozeroy", fillcolor="#BEBEBE", xaxis=xr, yaxis=yr, hoverinfo="skip"))
    # texts
    cx = (x0 + x1) / 2.0
    note(p["title"], cx, r["top"] - 2, p["ts"], color="#1A1A1A", yanchor="bottom")
    note("Enrichment Score", x0 - 37, (r["top"] + r["es"]) / 2.0, 11.8, color="#1A1A1A", angle=-90)
    note("Ranked list metric", x0 - 37, (r["strip"] + r["bot"]) / 2.0, 11.3, color="#1A1A1A", angle=-90)
    note("Rank in Ordered Dataset", cx, r["xt"], 12, color="#1A1A1A")
    lines = ["NES = " + p["stats"][0], "p.adj = " + p["stats"][1], "FDR = " + p["stats"][2]]
    if p["stats"][0].startswith("\u2212"):
        for i, t in enumerate(lines):
            note(t, x0 + 6, r["es"] - 35 + 12.5 * i, 8.8, color="#333333", xanchor="left")
    else:
        for i, t in enumerate(lines):
            note(t, x1 - 5, r["top"] + 9 + 12.5 * i, 8.8, color="#333333", xanchor="right")
    note("<b>%s</b>" % p["L"], p["lp"][0], p["lp"][1], 30, color="black")

# ------------------------------------------------------------------ Panel M
CS_HM = [[0, "#4575B4"], [1 / 6.0, "#91BFDB"], [2 / 6.0, "#E0F3F8"], [0.5, "#FFFFBF"], [4 / 6.0, "#FEE090"],
         [5 / 6.0, "#FC8D59"], [1, "#D73027"]]
GROUP_COLORS = ["#40BAC4", "#F08A84"]
ncol = len(hm_values[0])
nrow = len(hm_values)
xh, yh = add_axes(162, 658, 1546, 2193, xa=dict(range=[-0.5, ncol - 0.5]), ya=dict(range=[nrow - 0.5, -0.5]))
fig.add_trace(go.Heatmap(z=hm_values, x=list(range(ncol)), y=list(range(nrow)), colorscale=CS_HM, zmin=-0.75,
                         zmax=0.76, xaxis=xh, yaxis=yh, hoverinfo="skip",
                         colorbar=dict(x=X(996), xanchor="left", y=Y((1552 + 1753) / 2.0), yanchor="middle",
                                       len=201, lenmode="pixels", thickness=12, thicknessmode="pixels",
                                       tickvals=hm_cbar_ticks, ticktext=[mtxt(t) for t in hm_cbar_ticks],
                                       ticks="", tickfont=dict(size=13, color="#333333"), outlinewidth=0,
                                       xpad=0, ypad=0)))
for i, lab in enumerate(hm_rows):
    note("<b>%s</b>" % lab, 663, i, 13.4, color="#1A1A1A", xanchor="left", align="left", yref=yh)

xg, yg = add_axes(162, 658, 1528, 1542, xa=dict(range=[-0.5, ncol - 0.5]), ya=dict(range=[-0.5, 0.5]))
fig.add_trace(go.Heatmap(z=[hm_groups], x=list(range(ncol)), y=[0],
                         colorscale=[[0, GROUP_COLORS[0]], [0.5, GROUP_COLORS[0]], [0.5, GROUP_COLORS[1]],
                                     [1, GROUP_COLORS[1]]],
                         zmin=0, zmax=1, showscale=False, xaxis=xg, yaxis=yg, hoverinfo="skip"))
note("<b>Group</b>", 663, 1535, 13, xanchor="left")

# dendrogram
pos = {i: float(i) for i in range(nrow)}
hgt = {i: 0.0 for i in range(nrow)}
dx, dy = [], []
for k, (a, b, hh) in enumerate(dend_merges):
    cid = nrow + k
    dx += [hgt[a], hh, hh, hgt[b], None]
    dy += [pos[a], pos[a], pos[b], pos[b], None]
    pos[cid] = (pos[a] + pos[b]) / 2.0
    hgt[cid] = hh
xd, yd = add_axes(110, 162, 1546, 2193, xa=dict(range=[152, 0]), ya=dict(range=[nrow - 0.5, -0.5]))
fig.add_trace(go.Scatter(x=dx, y=dy, mode="lines", line=dict(color="#333333", width=1), xaxis=xd, yaxis=yd,
                         hoverinfo="skip", cliponaxis=False))

# group legend
note("<b>Group</b>", 1045, 1557, 13, xanchor="left")
for i, (nm, col) in enumerate(zip(group_names, GROUP_COLORS)):
    top = 1566 + 19.5 * i
    shapes.append(dict(type="rect", xref="paper", yref="paper", x0=X(1045), x1=X(1064), y0=Y(top + 19),
                       y1=Y(top), fillcolor=col, line=dict(width=0)))
    note(nm, 1069, top + 9.5, 13, color="#1A1A1A", xanchor="left")

note("<b>A</b>", 20, 31, 30, color="black")
note("<b>B</b>", 1110, 31, 30, color="black")
note("<b>M</b>", 22, 1507, 30, color="black")

layout.update(width=W, height=H, margin=dict(l=0, r=0, t=0, b=0), template="none", paper_bgcolor="white",
              plot_bgcolor="white", showlegend=False, hovermode=False,
              font=dict(family=FONT, color="#1A1A1A"), annotations=annotations, shapes=shapes)
fig.update_layout(**layout)
fig.write_html("out.html")
